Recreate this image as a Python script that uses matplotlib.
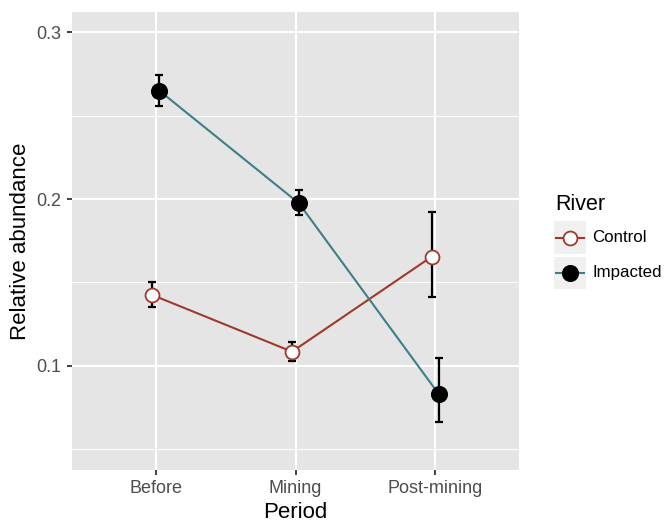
import matplotlib
matplotlib.use("Agg")
import matplotlib.pyplot as plt
from matplotlib.lines import Line2D
from matplotlib.patches import Rectangle
import numpy as np

plt.rcParams['font.family'] = ['Liberation Sans', 'DejaVu Sans']

periods = ["Before", "Mining", "Post-mining"]
control_mean = [0.1424, 0.1084, 0.1654]
control_lo = [0.1354, 0.1030, 0.1414]
control_hi = [0.1504, 0.1144, 0.1924]
impacted_mean = [0.2650, 0.1974, 0.0830]
impacted_lo = [0.2560, 0.1904, 0.0660]
impacted_hi = [0.2744, 0.2054, 0.1044]
series_names = ["Control", "Impacted"]

ctrl_col = "#A0392B"
imp_col = "#3D7F86"

W, H = 665, 524
fig = plt.figure(figsize=(W/100, H/100), dpi=100)
ax = fig.add_axes([72/W, 1-470/H, (519-72)/W, (470-12)/H])
ax.set_facecolor("#E5E5E5")
for s in ax.spines.values():
    s.set_visible(False)

x = np.arange(1, len(periods)+1)
dodge = 0.025

yt_major = [0.1, 0.2, 0.3]
yt_minor = [0.05, 0.15, 0.25]
for v in yt_minor:
    ax.axhline(v, color="white", lw=0.7, zorder=0)
for v in yt_major:
    ax.axhline(v, color="white", lw=1.5, zorder=0)
for v in x:
    ax.axvline(v, color="white", lw=1.5, zorder=0)

xc = x - dodge
xi = x + dodge
ax.plot(xc, control_mean, color=ctrl_col, lw=1.5, zorder=2)
ax.plot(xi, impacted_mean, color=imp_col, lw=1.5, zorder=2)
ax.errorbar(xc, control_mean,
            yerr=[np.array(control_mean)-np.array(control_lo), np.array(control_hi)-np.array(control_mean)],
            fmt='none', ecolor='black', elinewidth=1.6, capsize=3, capthick=1.6, zorder=3)
ax.errorbar(xi, impacted_mean,
            yerr=[np.array(impacted_mean)-np.array(impacted_lo), np.array(impacted_hi)-np.array(impacted_mean)],
            fmt='none', ecolor='black', elinewidth=1.6, capsize=3, capthick=1.6, zorder=3)
ax.plot(xc, control_mean, 'o', ms=10, mfc='white', mec=ctrl_col, mew=1.3, ls='none', zorder=4)
ax.plot(xi, impacted_mean, 'o', ms=11.3, mfc='black', mec='black', ls='none', zorder=4)

ax.set_xlim(0.4, 3.6)
ax.set_ylim(0.0374, 0.3122)
ax.set_xticks(x)
ax.set_xticklabels(periods)
ax.set_yticks(yt_major)
ax.set_yticklabels(["0.1", "0.2", "0.3"])
ax.tick_params(axis='both', colors='#333333', labelcolor='#4D4D4D', labelsize=13, length=3.5, width=1.3, pad=4)
ax.set_xlabel("Period", fontsize=16, color='black', labelpad=3)
ax.set_ylabel("Relative abundance", fontsize=16, color='black', labelpad=4)

# Legend (ggplot style, drawn manually in figure pixel coords)
def fx(px):
    return px / W
def fy(py):
    return 1 - py / H

fig.text(fx(555), fy(205), "River", fontsize=15.5, ha='left', va='center', color='black')
key_boxes = [(221.5, 253.5), (256.5, 288.5)]
styles = [
    dict(color=ctrl_col, mfc='white', mec=ctrl_col, mew=1.3, ms=10),
    dict(color=imp_col, mfc='black', mec='black', mew=1.0, ms=11.3),
]
for (top, bot), name, st in zip(key_boxes, series_names, styles):
    fig.patches.append(Rectangle((fx(554), fy(bot)), fx(586) - fx(554), fy(top) - fy(bot),
                                 transform=fig.transFigure, facecolor="#F0F0F0", edgecolor='none', zorder=1))
    yc = fy((top + bot) / 2)
    fig.add_artist(Line2D([fx(556), fx(584)], [yc, yc], color=st['color'], lw=1.5,
                          transform=fig.transFigure, zorder=2))
    fig.add_artist(Line2D([fx(570)], [yc], marker='o', ms=st['ms'], mfc=st['mfc'], mec=st['mec'],
                          mew=st['mew'], ls='none', transform=fig.transFigure, zorder=3))
    fig.text(fx(592), yc, name, fontsize=12.2, ha='left', va='center', color='black')

fig.savefig("out.png", dpi=100)
